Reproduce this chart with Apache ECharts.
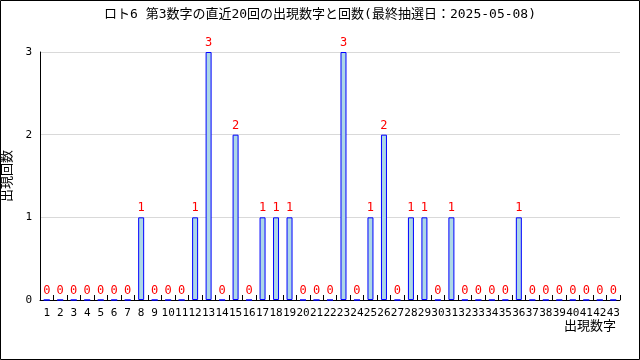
<!DOCTYPE html>
<html><head><meta charset="utf-8">
<script src="https://cdn.jsdelivr.net/npm/echarts@6/dist/echarts.min.js"></script>
<style>html,body{margin:0;padding:0;background:#fff}#c{width:640px;height:360px}</style>
</head><body><div id="c"></div>
<script>
const categories = [];
for (let i = 1; i <= 43; i++) categories.push(String(i));
const hitNumbers = [8, 12, 13, 15, 17, 18, 19, 23, 25, 26, 28, 29, 31, 36];
const hitCounts  = [1, 1, 3, 2, 1, 1, 1, 3, 1, 2, 1, 1, 1, 1];
const values = categories.map(c => { const k = hitNumbers.indexOf(Number(c)); return k >= 0 ? hitCounts[k] : 0; });
const yTicks = [0, 1, 2, 3];
const titleText = 'ロト6 第3数字の直近20回の出現数字と回数(最終抽選日：2025-05-08)';

const chart = echarts.init(document.getElementById('c'), null, {renderer: 'canvas'});
const mono = '"DejaVu Sans Mono", "Noto Sans CJK JP", monospace';
chart.setOption({
  animation: false,
  backgroundColor: '#fff',
  title: {text: titleText, left: 'center', top: 3,
    textStyle: {fontFamily: mono, fontSize: 13, fontWeight: 'normal', color: '#000'}},
  graphic: [{type: 'rect', shape: {x: 0.5, y: 0.5, width: 639, height: 359},
    style: {fill: 'none', stroke: '#000', lineWidth: 1}, silent: true}],
  grid: {left: 40, right: 20, top: 52, bottom: 60, containLabel: false, outerBoundsMode: 'none'},
  xAxis: {
    type: 'category', data: categories,
    name: '出現数字', nameLocation: 'end', nameMoveOverlap: false,
    nameTextStyle: {fontFamily: mono, fontSize: 13, color: '#000', align: 'right', verticalAlign: 'top', padding: [20, 0, 0, 0]},
    nameGap: -4,
    axisLine: {lineStyle: {color: '#000', width: 1}},
    axisTick: {show: true, inside: true, length: 5, lineStyle: {color: '#000'}},
    axisLabel: {interval: 0, fontFamily: mono, fontSize: 11, color: '#000', margin: 8}
  },
  yAxis: {
    type: 'value', min: 0, max: 3, interval: 1,
    name: '出現回数', nameLocation: 'middle', nameGap: 8, nameMoveOverlap: true,
    nameTextStyle: {fontFamily: mono, fontSize: 13, color: '#000'},
    axisLine: {show: true, lineStyle: {color: '#000'}},
    axisTick: {show: false},
    axisLabel: {fontFamily: mono, fontSize: 11, color: '#000', margin: 8,
      formatter: v => yTicks.includes(v) ? String(v) : ''},
    splitLine: {show: true, lineStyle: {color: '#d9d9d9'}}
  },
  series: [{
    type: 'bar', data: values, barWidth: 6,
    itemStyle: {color: '#add8e6', borderColor: '#0000ff', borderWidth: 1},
    label: {show: true, position: 'top', distance: 3, color: '#ff0000',
      fontFamily: mono, fontSize: 12}
  }]
});
</script></body></html>
